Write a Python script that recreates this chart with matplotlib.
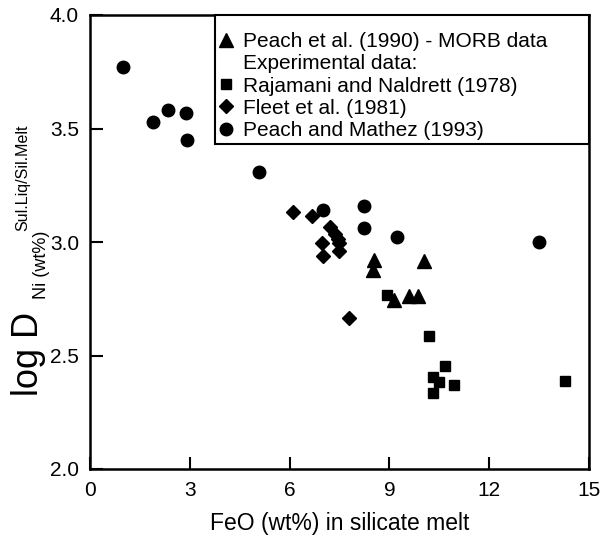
import matplotlib
matplotlib.use("Agg")
import matplotlib.pyplot as plt
from matplotlib.lines import Line2D

plt.rcParams["font.family"] = ["Liberation Sans", "DejaVu Sans"]

# Peach et al. (1990) - MORB data
morb_feo = [8.54, 8.52, 10.04, 9.14, 9.60, 9.87]
morb_logd = [2.92, 2.875, 2.915, 2.743, 2.76, 2.76]

# Rajamani and Naldrett (1978)
raj_feo = [8.93, 10.19, 10.67, 10.32, 10.50, 10.94, 10.32, 14.29]
raj_logd = [2.765, 2.586, 2.452, 2.405, 2.383, 2.372, 2.334, 2.387]

# Fleet et al. (1981)
fleet_feo = [6.09, 6.66, 7.21, 7.36, 7.46, 7.49, 6.96, 7.49, 7.01, 7.78]
fleet_logd = [3.134, 3.116, 3.064, 3.037, 3.015, 2.996, 2.996, 2.959, 2.937, 2.667]

# Peach and Mathez (1993)
pm_feo = [1.00, 1.88, 2.35, 2.89, 2.92, 5.08, 6.99, 8.24, 8.24, 9.24, 13.49]
pm_logd = [3.77, 3.53, 3.58, 3.57, 3.45, 3.31, 3.14, 3.16, 3.06, 3.02, 3.00]

xticks = [0, 3, 6, 9, 12, 15]
yticks = [2.0, 2.5, 3.0, 3.5, 4.0]

W, H = 603, 536
fig = plt.figure(figsize=(W / 100, H / 100), dpi=100)
ax = fig.add_axes([90 / W, 1 - 469 / H, 499 / W, 454 / H])

ax.plot(morb_feo, morb_logd, "^", color="black", ms=9.5, ls="none")
ax.plot(raj_feo, raj_logd, "s", color="black", ms=7.5, ls="none")
ax.plot(fleet_feo, fleet_logd, "D", color="black", ms=7.5, ls="none")
ax.plot(pm_feo, pm_logd, "o", color="black", ms=9, ls="none")

ax.set_xlim(0, 15)
ax.set_ylim(2.0, 4.0)
ax.set_xticks(xticks)
ax.set_xticklabels([str(t) for t in xticks])
ax.set_yticks(yticks)
ax.set_yticklabels([f"{t:.1f}" for t in yticks])
ax.tick_params(direction="in", length=9, width=1.5, labelsize=15,
               top=False, right=False)
ax.tick_params(axis="x", pad=9)
ax.tick_params(axis="y", pad=8)
for sp in ax.spines.values():
    sp.set_linewidth(1.8)

ax.set_xlabel("FeO (wt%) in silicate melt", fontsize=16.5, labelpad=8)

# y label: main text, subscript and superscript laid out one after another
fig.text(46 / W, 1 - 396 / H, "log D", rotation=90, fontsize=26,
         ha="right", va="bottom")
fig.text(50 / W, 1 - 299 / H, "Ni (wt%)", rotation=90, fontsize=13,
         ha="right", va="bottom")
fig.text(30 / W, 1 - 231 / H, "Sul.Liq/Sil.Melt", rotation=90, fontsize=11.5,
         ha="right", va="bottom")

handles = [
    Line2D([], [], marker="^", color="black", ls="none", ms=9.5),
    Line2D([], [], ls="none"),
    Line2D([], [], marker="s", color="black", ls="none", ms=7.5),
    Line2D([], [], marker="D", color="black", ls="none", ms=7.5),
    Line2D([], [], marker="o", color="black", ls="none", ms=9),
]
labels = [
    "Peach et al. (1990) - MORB data",
    "Experimental data:",
    "Rajamani and Naldrett (1978)",
    "Fleet et al. (1981)",
    "Peach and Mathez (1993)",
]
x0 = (215 - 90) / 499
leg = ax.legend(handles, labels, loc="upper left", fontsize=15,
                bbox_to_anchor=(x0, 0, 1 - x0, 1), mode="expand",
                title=" ", title_fontsize=8,
                frameon=True, fancybox=False, edgecolor="black",
                borderaxespad=0, handlelength=0.7, handletextpad=0.45,
                labelspacing=0.15, borderpad=0.2, framealpha=1)
leg.get_frame().set_linewidth(1.5)

fig.savefig("out.png", dpi=100)
